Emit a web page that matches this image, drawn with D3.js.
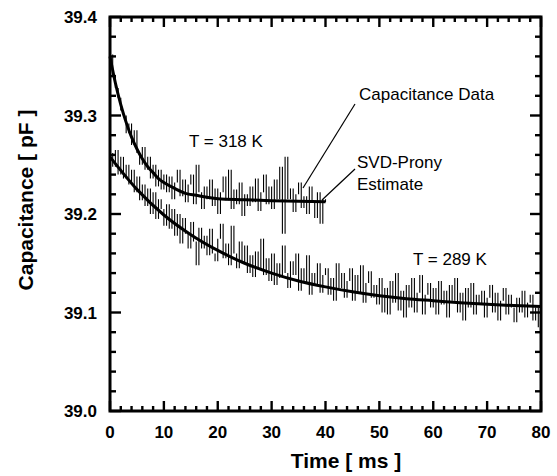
<!DOCTYPE html>
<html>
<head>
<meta charset="utf-8">
<script src="https://cdn.jsdelivr.net/npm/d3@7"></script>
<style>
  html, body { margin: 0; padding: 0; background: #fff; }
  svg { display: block; }
  text { font-family: "Liberation Sans", Arial, sans-serif; fill: #000; }
</style>
</head>
<body>
<svg id="chart" width="557" height="476"></svg>
<script>
// ---------- data ----------
const xTicks = [0, 10, 20, 30, 40, 50, 60, 70, 80];
const yTicks = [39.0, 39.1, 39.2, 39.3, 39.4];
const yTickLabels = ["39.0", "39.1", "39.2", "39.3", "39.4"];
const xMinorStep = 2;      // ms
const yMinorStep = 0.02;   // pF

// time grid of the measured samples (ms)
const dataTimes318 = d3.range(0, 40.001, 0.5);
const dataTimes289 = d3.range(0, 80.001, 0.5);

// measured capacitance, T = 318 K (pF)
const data318 = [
  39.362, 39.340, 39.328, 39.318, 39.305, 39.300, 39.282, 39.292, 39.270, 39.285,
  39.262, 39.250, 39.268, 39.245, 39.258, 39.236, 39.250, 39.228, 39.245, 39.225,
  39.240, 39.222, 39.238, 39.215, 39.232, 39.245, 39.218, 39.235, 39.212, 39.230,
  39.240, 39.210, 39.250, 39.222, 39.205, 39.228, 39.215, 39.235, 39.208, 39.226,
  39.200, 39.222, 39.238, 39.214, 39.245, 39.205, 39.225, 39.210, 39.232, 39.198,
  39.220, 39.208, 39.228, 39.212, 39.236, 39.203, 39.222, 39.240, 39.210, 39.228,
  39.205, 39.235, 39.215, 39.248, 39.180, 39.258, 39.215, 39.226, 39.202, 39.220,
  39.232, 39.206, 39.218, 39.200, 39.228, 39.212, 39.196, 39.222, 39.190, 39.215,
  39.212
];

// measured capacitance, T = 289 K (pF)
const data289 = [
  39.262, 39.248, 39.265, 39.240, 39.258, 39.236, 39.250, 39.230, 39.245, 39.222,
  39.238, 39.214, 39.230, 39.208, 39.226, 39.200, 39.222, 39.195, 39.215, 39.205,
  39.188, 39.210, 39.185, 39.205, 39.178, 39.200, 39.170, 39.196, 39.180, 39.165,
  39.192, 39.172, 39.148, 39.186, 39.165, 39.178, 39.158, 39.185, 39.160, 39.152,
  39.175, 39.190, 39.155, 39.170, 39.148, 39.188, 39.160, 39.145, 39.172, 39.150,
  39.168, 39.140, 39.158, 39.136, 39.162, 39.145, 39.175, 39.138, 39.155, 39.132,
  39.160, 39.128, 39.150, 39.135, 39.168, 39.140, 39.125, 39.152, 39.138, 39.160,
  39.122, 39.145, 39.130, 39.158, 39.118, 39.140, 39.127, 39.150, 39.120, 39.138,
  39.145, 39.118, 39.135, 39.112, 39.150, 39.125, 39.140, 39.115, 39.132, 39.145,
  39.112, 39.138, 39.120, 39.148, 39.110, 39.130, 39.142, 39.115, 39.128, 39.108,
  39.135, 39.100, 39.125, 39.098, 39.132, 39.110, 39.140, 39.102, 39.122, 39.095,
  39.128, 39.105, 39.135, 39.100, 39.120, 39.138, 39.098, 39.118, 39.130, 39.105,
  39.125, 39.098, 39.132, 39.108, 39.122, 39.095, 39.128, 39.112, 39.135, 39.100,
  39.120, 39.092, 39.125, 39.105, 39.130, 39.098, 39.118, 39.108, 39.122, 39.095,
  39.115, 39.128, 39.100, 39.120, 39.092, 39.112, 39.125, 39.098, 39.118, 39.105,
  39.090, 39.115, 39.100, 39.122, 39.095, 39.110, 39.118, 39.092, 39.105, 39.085,
  39.078
];

// SVD-Prony estimates
const fitTimes318 = [0, 1, 2, 3, 4, 5, 6, 7, 8, 9, 10, 12, 14, 16, 18, 20, 25, 30, 35, 40];
const fit318 = [39.360, 39.333, 39.311, 39.293, 39.278, 39.266, 39.256, 39.248, 39.242, 39.236,
                39.232, 39.226, 39.221, 39.219, 39.217, 39.2155, 39.2145, 39.2135, 39.213, 39.2125];
const fitTimes289 = [0, 5, 10, 15, 20, 25, 30, 35, 40, 45, 50, 55, 60, 65, 70, 75, 80];
const fit289 = [39.258, 39.225, 39.199, 39.179, 39.163, 39.150, 39.140, 39.132, 39.126,
                39.121, 39.117, 39.114, 39.112, 39.110, 39.1085, 39.107, 39.106];

// ---------- layout ----------
const svg = d3.select("#chart");
const L = 110, T = 17, R = 541, B = 411;
const x = d3.scaleLinear().domain([0, 80]).range([L, R]);
const y = d3.scaleLinear().domain([39.0, 39.4]).range([B, T]);

// data: scanned-looking vertical dashes between consecutive samples
[[dataTimes318, data318], [dataTimes289, data289]].forEach(([ts, vs]) => {
  const segs = ts.slice(1).map((t, i) => ({ t: t, a: vs[i], b: vs[i + 1] }));
  svg.append("g").selectAll("line").data(segs).join("line")
    .attr("x1", d => x(d.t)).attr("x2", d => x(d.t))
    .attr("y1", d => y(d.a)).attr("y2", d => y(d.b))
    .attr("stroke", "#000")
    .attr("stroke-width", 1.1);
});

// fits
const fitLine = d3.line().x(d => x(d[0])).y(d => y(d[1])).curve(d3.curveMonotoneX);
[[fitTimes318, fit318], [fitTimes289, fit289]].forEach(([ts, vs]) => {
  svg.append("path")
    .datum(ts.map((t, i) => [t, vs[i]]))
    .attr("d", fitLine)
    .attr("fill", "none")
    .attr("stroke", "#000")
    .attr("stroke-width", 3);
});

// frame
svg.append("rect").attr("x", L).attr("y", T).attr("width", R - L).attr("height", B - T)
  .attr("fill", "none").attr("stroke", "#000").attr("stroke-width", 3);

// ---------- ticks (inside on all four sides) ----------
const xt = d3.range(0, 41, 1).map(i => ({ v: i * xMinorStep, major: i % 5 === 0 }));
const yt = d3.range(0, 21, 1).map(i => ({ v: 39.0 + i * yMinorStep, major: i % 5 === 0 }));
const tickSegs = [];
xt.forEach(d => {
  const len = d.major ? 10 : 5;
  tickSegs.push({ x1: x(d.v), y1: B, x2: x(d.v), y2: B - len });
  tickSegs.push({ x1: x(d.v), y1: T, x2: x(d.v), y2: T + len });
});
yt.forEach(d => {
  const len = d.major ? 11 : 6;
  tickSegs.push({ x1: L, y1: y(d.v), x2: L + len, y2: y(d.v) });
  tickSegs.push({ x1: R, y1: y(d.v), x2: R - len, y2: y(d.v) });
});
svg.append("g").selectAll("line").data(tickSegs).join("line")
  .attr("x1", d => d.x1).attr("y1", d => d.y1)
  .attr("x2", d => d.x2).attr("y2", d => d.y2)
  .attr("stroke", "#000").attr("stroke-width", 2.4);

// tick labels
svg.append("g").selectAll("text").data(xTicks).join("text")
  .attr("x", d => x(d)).attr("y", 438)
  .attr("text-anchor", "middle")
  .style("font-size", "17px").style("font-weight", "bold")
  .text(d => d);
svg.append("g").selectAll("text").data(yTicks).join("text")
  .attr("x", 97).attr("y", d => y(d) + 6)
  .attr("text-anchor", "end")
  .style("font-size", "17px").style("font-weight", "bold")
  .text((d, i) => yTickLabels[i]);

// axis titles
svg.append("text").attr("x", 346).attr("y", 468).attr("text-anchor", "middle")
  .style("font-size", "21px").style("font-weight", "bold").text("Time [ ms ]");
svg.append("text").attr("transform", "translate(33,200) rotate(-90)").attr("text-anchor", "middle")
  .style("font-size", "21px").style("font-weight", "bold").text("Capacitance [ pF ]");

// annotations
const ann = [
  { t: "T = 318 K", x: 189, y: 147 },
  { t: "T = 289 K", x: 413, y: 265 },
  { t: "Capacitance Data", x: 359, y: 100 },
  { t: "SVD-Prony", x: 357, y: 168 },
  { t: "Estimate", x: 357, y: 190 }
];
svg.append("g").selectAll("text").data(ann).join("text")
  .attr("x", d => d.x).attr("y", d => d.y)
  .style("font-size", "17px")
  .text(d => d.t);

// leader lines
const leaders = [
  [[355, 104], [303, 188]],
  [[355, 169], [322, 200]]
];
svg.append("g").selectAll("line").data(leaders).join("line")
  .attr("x1", d => d[0][0]).attr("y1", d => d[0][1])
  .attr("x2", d => d[1][0]).attr("y2", d => d[1][1])
  .attr("stroke", "#000").attr("stroke-width", 1.2);
</script>
</body>
</html>
